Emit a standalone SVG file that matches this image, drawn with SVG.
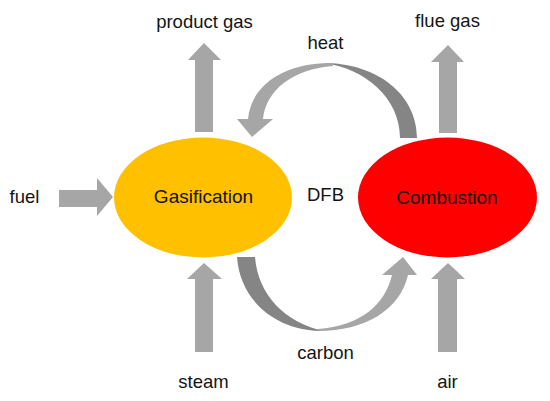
<svg xmlns="http://www.w3.org/2000/svg" width="550" height="401" viewBox="0 0 550 401">
<style>
text{font-family:"Liberation Sans",Arial,sans-serif;fill:#141414;text-anchor:middle}
.lbl{font-size:18.5px}
.node{font-size:19px}
.arr{fill:#a6a6a6}
.dark{fill:#858585}
</style>
<rect width="550" height="401" fill="#fff"/>
<g id="connectors">
<polygon class="arr" points="195,132 195,60 188,60 204,43 221,60 213,60 213,132"/>
<polygon class="arr" points="439,133 439,62 431,62 448,45 464,62 457,62 457,133"/>
<polygon class="arr" points="195,352 195,279 187,279 204,263 222,279 213,279 213,352"/>
<polygon class="arr" points="438,352 438,279 431,279 448,263 465,279 457,279 457,352"/>
<polygon class="arr" points="59,190 97,190 97,178 113,197 97,216 97,207 59,207"/>
<g id="heat-arrow">
<path class="dark" d="M400,138 L417,138 C417,95 378,63 323,63 C365,68 400,98 400,138 Z"/>
<path class="arr" d="M333,63 C285,62 251,85 248,119 L237,119 L252,137 L273,119 L263,119 C266,90 293,69 333,66 Z"/>
</g>
<g id="carbon-arrow">
<path class="dark" d="M237,257 L255,257 C258,295 285,322 323,331 C275,331 240,300 237,257 Z"/>
<path class="arr" d="M318,331 C365,331 400,310 408,275 L417,275 L403,257 L382,275 L392,275 C385,305 360,326 318,329 Z"/>
</g>
</g>
<g id="gasification">
<ellipse cx="203" cy="197.5" rx="89" ry="60" fill="#ffc000"/>
<text class="node" x="203.5" y="203">Gasification</text>
</g>
<g id="combustion">
<ellipse cx="447.5" cy="197.5" rx="89.5" ry="60" fill="#ff0000"/>
<text class="node" x="447" y="204">Combustion</text>
</g>
<g id="labels">
<text class="lbl" x="204.5" y="28">product gas</text>
<text class="lbl" x="447.5" y="27">flue gas</text>
<text class="lbl" x="325.5" y="49">heat</text>
<text class="lbl" x="24.5" y="203">fuel</text>
<text class="lbl" x="325.5" y="201">DFB</text>
<text class="lbl" x="325.5" y="359">carbon</text>
<text class="lbl" x="203.5" y="388">steam</text>
<text class="lbl" x="447.5" y="388">air</text>
</g>
</svg>
